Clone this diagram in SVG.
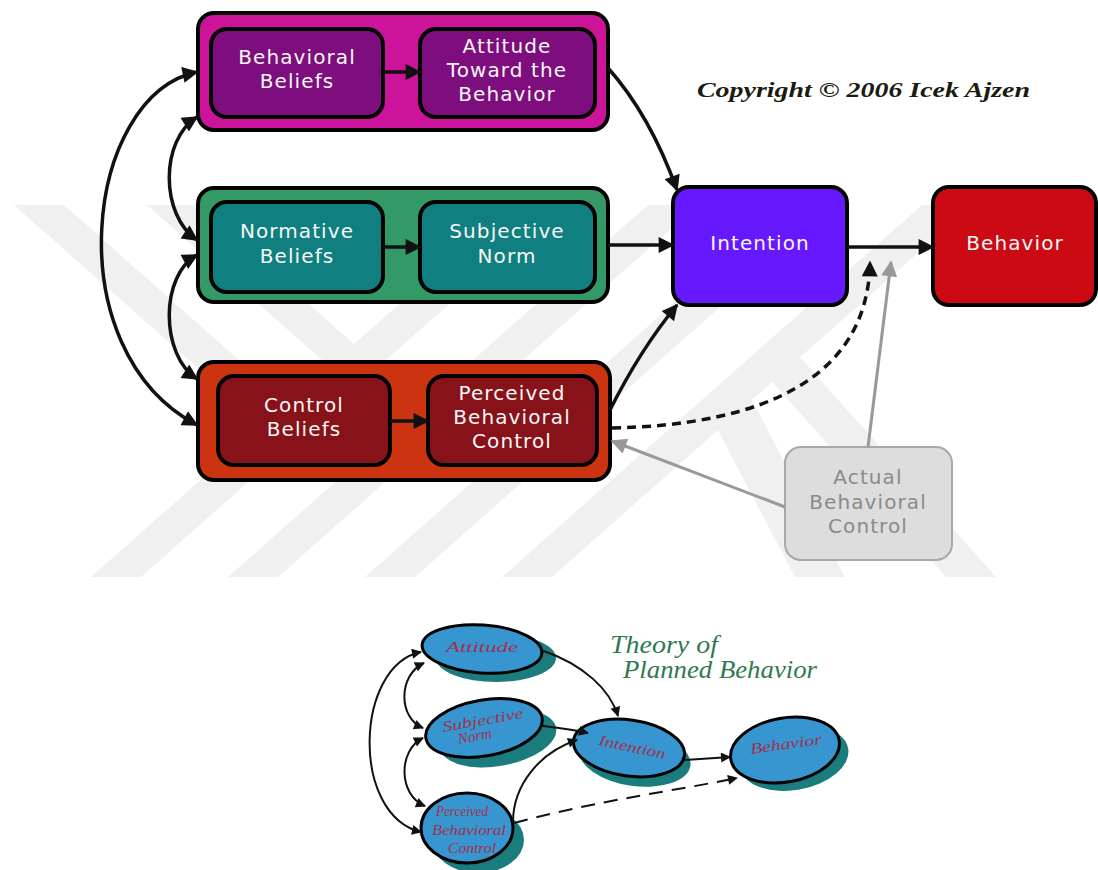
<svg xmlns="http://www.w3.org/2000/svg" width="1098" height="870" viewBox="0 0 1098 870">
<defs>
<style>
.box{stroke:#000;stroke-width:4}
.t{font-family:"DejaVu Sans",sans-serif;font-size:20px;letter-spacing:1.1px;fill:#f7f7f7;text-anchor:middle}
.wm{fill:#f0f0f0}
.ln{fill:none;stroke:#111;stroke-width:3.5}
.lnb{fill:none;stroke:#111;stroke-width:2}
.gr{fill:none;stroke:#999;stroke-width:3}
.el{fill:#3796d0;stroke:#000;stroke-width:3}
.sh{fill:#1a7c7c}
.et{font-family:"Liberation Serif",serif;font-style:italic;font-size:15px;fill:#a3304c;text-anchor:middle}
.tt{font-family:"Liberation Serif",serif;font-style:italic;font-size:25px;fill:#2f7a4e}
</style>
<marker id="ah" viewBox="0 0 10 10" refX="9" refY="5" markerWidth="18" markerHeight="16" markerUnits="userSpaceOnUse" orient="auto-start-reverse"><path d="M0,0L10,5L0,10Z" fill="#111"/></marker>
<marker id="ahg" viewBox="0 0 10 10" refX="9" refY="5" markerWidth="18" markerHeight="16" markerUnits="userSpaceOnUse" orient="auto-start-reverse"><path d="M0,0L10,5L0,10Z" fill="#999"/></marker>
<marker id="as" viewBox="0 0 10 10" refX="9" refY="5" markerWidth="13" markerHeight="10" markerUnits="userSpaceOnUse" orient="auto-start-reverse"><path d="M0,0L10,5L0,10Z" fill="#111"/></marker>
</defs>
<rect width="1098" height="870" fill="#fff"/>
<g id="watermark">
<polygon class="wm" points="91,577 141,577 561,205 511,205"/>
<polygon class="wm" points="228,577 278,577 698,205 648,205"/>
<polygon class="wm" points="365,577 415,577 835,205 785,205"/>
<polygon class="wm" points="502,577 552,577 972,205 922,205"/>
<polygon class="wm" points="14,205 64,205 301,415 251,415"/>
<polygon class="wm" points="147,205 197,205 372,360 322,360"/>
<polygon class="wm" points="750,357 800,357 996,577 946,577"/>
<polygon class="wm" points="702,400 752,400 845,577 795,577"/>
</g>
<g id="attitude-group">
<rect class="box" x="198" y="13" width="410" height="117" rx="16" fill="#cc149a"/>
<g id="behavioral-beliefs">
<rect class="box" x="211" y="29" width="172" height="88" rx="16" fill="#7e0d7e"/>
<text class="t" x="297" y="64">Behavioral</text>
<text class="t" x="297" y="88">Beliefs</text>
</g>
<g id="attitude">
<rect class="box" x="420" y="29" width="175" height="88" rx="16" fill="#7e0d7e"/>
<text class="t" x="507" y="53">Attitude</text>
<text class="t" x="507" y="77">Toward the</text>
<text class="t" x="507" y="101">Behavior</text>
</g>
</g>
<g id="norm-group">
<rect class="box" x="198" y="188" width="410" height="114" rx="16" fill="#339966"/>
<g id="normative-beliefs">
<rect class="box" x="211" y="202" width="172" height="90" rx="16" fill="#0f7f7f"/>
<text class="t" x="297" y="238">Normative</text>
<text class="t" x="297" y="263">Beliefs</text>
</g>
<g id="subjective-norm">
<rect class="box" x="420" y="202" width="175" height="90" rx="16" fill="#0f7f7f"/>
<text class="t" x="507" y="238">Subjective</text>
<text class="t" x="507" y="263">Norm</text>
</g>
</g>
<g id="control-group">
<rect class="box" x="198" y="362" width="412" height="118" rx="16" fill="#cc3311"/>
<g id="control-beliefs">
<rect class="box" x="218" y="376" width="172" height="89" rx="16" fill="#88121a"/>
<text class="t" x="304" y="412">Control</text>
<text class="t" x="304" y="436">Beliefs</text>
</g>
<g id="perceived-control">
<rect class="box" x="428" y="376" width="169" height="89" rx="16" fill="#88121a"/>
<text class="t" x="512" y="400">Perceived</text>
<text class="t" x="512" y="424">Behavioral</text>
<text class="t" x="512" y="448">Control</text>
</g>
</g>
<g id="intention">
<rect class="box" x="673" y="187" width="174" height="118" rx="16" fill="#6619ff"/>
<text class="t" x="760" y="250" font-size="22">Intention</text>
</g>
<g id="behavior">
<rect class="box" x="933" y="187" width="163" height="118" rx="16" fill="#cc0a14"/>
<text class="t" x="1015" y="250" font-size="22">Behavior</text>
</g>
<g id="actual-control">
<rect x="785" y="447" width="167" height="113" rx="16" fill="#dddddd" stroke="#a8a8a8" stroke-width="2"/>
<text class="t" x="868" y="484" style="fill:#8a8a8a">Actual</text>
<text class="t" x="868" y="509" style="fill:#8a8a8a">Behavioral</text>
<text class="t" x="868" y="533" style="fill:#8a8a8a">Control</text>
</g>
<g id="copyright">
<text x="697" y="97" font-family="Liberation Serif, serif" font-weight="bold" font-style="italic" font-size="22" fill="#1b1b10" textLength="333" lengthAdjust="spacingAndGlyphs">Copyright © 2006 Icek Ajzen</text>
</g>
<g id="tpb-title">
<text class="tt" x="610" y="653" textLength="108" lengthAdjust="spacingAndGlyphs">Theory of</text>
<text class="tt" x="623" y="678" textLength="194" lengthAdjust="spacingAndGlyphs">Planned Behavior</text>
</g>
<g id="b-attitude">
<ellipse class="sh" cx="496" cy="658" rx="60" ry="24"/>
<ellipse class="el" cx="482" cy="649" rx="60" ry="24" transform="rotate(4 482 649)"/>
<text class="et" x="482" y="652" textLength="72" lengthAdjust="spacingAndGlyphs">Attitude</text>
</g>
<g id="b-subjective-norm">
<ellipse class="sh" cx="498" cy="738" rx="59" ry="28" transform="rotate(-10 498 738)"/>
<ellipse class="el" cx="484" cy="728" rx="59" ry="28" transform="rotate(-10 484 728)"/>
<text class="et" x="483" y="725" transform="rotate(-10 483 722)" textLength="82" lengthAdjust="spacingAndGlyphs">Subjective</text>
<text class="et" x="475" y="741" transform="rotate(-10 475 737)">Norm</text>
</g>
<g id="b-pbc">
<ellipse class="sh" cx="478" cy="840" rx="46" ry="33"/>
<ellipse class="el" cx="467" cy="828" rx="46" ry="35"/>
<text class="et" x="462" y="816" font-size="13" textLength="52" lengthAdjust="spacingAndGlyphs">Perceived</text>
<text class="et" x="469" y="835" font-size="13" textLength="74" lengthAdjust="spacingAndGlyphs">Behavioral</text>
<text class="et" x="472" y="853" font-size="13" textLength="48" lengthAdjust="spacingAndGlyphs">Control</text>
</g>
<g id="b-intention">
<ellipse class="sh" cx="635" cy="758" rx="56" ry="28" transform="rotate(8 635 758)"/>
<ellipse class="el" cx="629" cy="748" rx="56" ry="28" transform="rotate(8 629 748)"/>
<text class="et" x="632" y="752" transform="rotate(12 632 748)" textLength="68" lengthAdjust="spacingAndGlyphs">Intention</text>
</g>
<g id="b-behavior">
<ellipse class="sh" cx="794" cy="758" rx="55" ry="32" transform="rotate(-10 794 758)"/>
<ellipse class="el" cx="785" cy="750" rx="55" ry="32" transform="rotate(-10 785 750)"/>
<text class="et" x="786" y="749" transform="rotate(-8 786 745)" textLength="72" lengthAdjust="spacingAndGlyphs">Behavior</text>
</g>
<g id="connectors">
<path class="ln" d="M383 72L420 72" marker-end="url(#ah)"/>
<path class="ln" d="M383 247L420 247" marker-end="url(#ah)"/>
<path class="ln" d="M390 421L428 421" marker-end="url(#ah)"/>
<path class="ln" d="M608 245L673 245" marker-end="url(#ah)"/>
<path class="ln" d="M847 247L933 247" marker-end="url(#ah)"/>
<path class="ln" d="M608 68Q650 115 677 190" marker-end="url(#ah)"/>
<path class="ln" d="M610 410Q640 350 677 305" marker-end="url(#ah)"/>
<path class="ln" d="M612 428C760 425 868 380 870 262" stroke-dasharray="9 6" stroke-width="4" marker-end="url(#ah)"/>
<path class="gr" d="M868 447L891 262" marker-end="url(#ahg)"/>
<path class="gr" d="M785 507L612 441" marker-end="url(#ahg)"/>
<path class="ln" d="M197 72C85 95 55 350 197 425" marker-start="url(#ah)" marker-end="url(#ah)"/>
<path class="ln" d="M197 117C160 140 160 215 197 240" marker-start="url(#ah)" marker-end="url(#ah)"/>
<path class="ln" d="M197 255C160 275 160 355 197 379" marker-start="url(#ah)" marker-end="url(#ah)"/>
<path class="lnb" d="M421 652C355 665 350 815 421 832" marker-start="url(#as)" marker-end="url(#as)"/>
<path class="lnb" d="M424 663C398 675 398 718 423 728" marker-start="url(#as)" marker-end="url(#as)"/>
<path class="lnb" d="M423 738C398 750 398 795 425 806" marker-start="url(#as)" marker-end="url(#as)"/>
<path class="lnb" d="M541 650C585 665 610 690 618 716" marker-end="url(#as)"/>
<path class="lnb" d="M543 726C560 728 575 730 588 733" marker-end="url(#as)"/>
<path class="lnb" d="M513 822C513 785 540 752 577 740" marker-end="url(#as)"/>
<path class="lnb" d="M685 760L730 757" marker-end="url(#as)"/>
<path class="lnb" d="M514 823C600 800 680 790 737 778" stroke-dasharray="14 9" stroke-width="2.5" marker-end="url(#as)"/>
</g>
</svg>
